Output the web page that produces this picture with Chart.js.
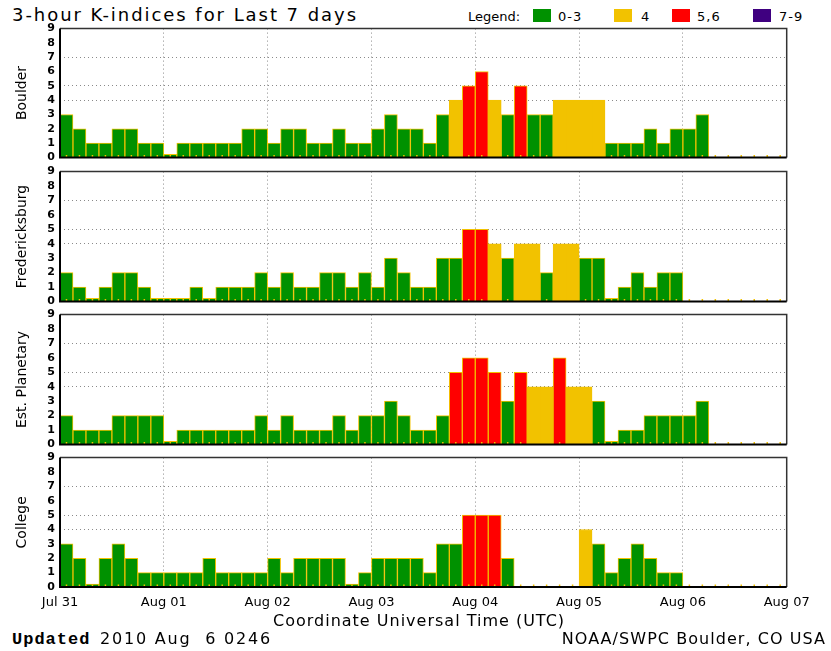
<!DOCTYPE html>
<html><head><meta charset="utf-8">
<script src="https://cdn.jsdelivr.net/npm/chart.js@4.4.0/dist/chart.umd.min.js"></script>
<style>
body{margin:0;background:#fff;width:831px;height:651px;position:relative;overflow:hidden;font-family:"DejaVu Sans",sans-serif;color:#000}
.t{position:absolute;white-space:pre;line-height:1}
canvas{position:absolute;left:0}
.box{position:absolute;width:18px;height:13px;top:9px}
</style></head><body>
<div class="t" style="left:12px;top:6px;font-size:18px;letter-spacing:1.95px">3-hour K-indices for Last 7 days</div>
<div class="t" style="left:468px;top:10px;font-size:13px">Legend:</div>
<div class="box" style="left:533px;background:#009100"></div>
<div class="t" style="left:558px;top:10px;font-size:13px;letter-spacing:1px">0-3</div>
<div class="box" style="left:614px;background:#f2c200"></div>
<div class="t" style="left:641px;top:10px;font-size:13px">4</div>
<div class="box" style="left:672px;background:#ff0000"></div>
<div class="t" style="left:697px;top:10px;font-size:13px;letter-spacing:1px">5,6</div>
<div class="box" style="left:753px;background:#3f0080"></div>
<div class="t" style="left:779px;top:10px;font-size:13px;letter-spacing:1px">7-9</div>

<canvas id="c1" width="831" height="152" style="top:17px"></canvas>
<canvas id="c2" width="831" height="153" style="top:160px"></canvas>
<canvas id="c3" width="831" height="153" style="top:303px"></canvas>
<canvas id="c4" width="831" height="171" style="top:446px"></canvas>

<div class="t" style="left:273px;top:613px;font-size:16px;letter-spacing:1px">Coordinate Universal Time (UTC)</div>
<div class="t" style="left:12px;top:631px;font-size:17px;font-weight:bold;font-family:'Liberation Mono',monospace;letter-spacing:1px">Updated</div>
<div class="t" style="left:100px;top:631px;font-size:16px;letter-spacing:1.8px">2010 Aug  6 0246</div>
<div class="t" style="right:5px;top:631px;font-size:16px;letter-spacing:1.05px">NOAA/SWPC Boulder, CO USA</div>
<script>
// ---- data (3-hour K-indices, 8 per day, 7 days) ----
const dayLabels = ['Jul 31','Aug 01','Aug 02','Aug 03','Aug 04','Aug 05','Aug 06','Aug 07'];
const stationNames = ['Boulder','Fredericksburg','Est. Planetary','College'];
const boulder = [3,2,1,1,2,2,1,1, 0,1,1,1,1,1,2,2, 1,2,2,1,1,2,1,1, 2,3,2,2,1,3,4,5,
                 6,4,3,5,3,3,4,4, 4,4,1,1,1,2,1,2, 2,3,null,null,null,null,null,null];
const fredericksburg = [2,1,0,1,2,2,1,0, 0,0,1,0,1,1,1,2, 1,2,1,1,2,2,1,2, 1,3,2,1,1,3,3,5,
                 5,4,3,4,4,2,4,4, 3,3,0,1,2,1,2,2, null,null,null,null,null,null,null,null];
const planetary = [2,1,1,1,2,2,2,2, 0,1,1,1,1,1,1,2, 1,2,1,1,1,2,1,2, 2,3,2,1,1,2,5,6,
                 6,5,3,5,4,4,6,4, 4,3,0,1,1,2,2,2, 2,3,null,null,null,null,null,null];
const college = [3,2,0,2,3,2,1,1, 1,1,1,2,1,1,1,1, 2,1,2,2,2,2,0,1, 2,2,2,2,1,3,3,5,
                 5,5,2,null,null,null,null,null, 4,3,1,2,3,2,1,1, null,null,null,null,null,null,null,null];
const yTicks = [0,1,2,3,4,5,6,7,8,9];
const gridLevels = [4,5,7];

const GREEN='#009100', GOLD='#f2c200', RED='#ff0000', PURPLE='#3f0080';
function colorFor(v){ if(v==null) return 'transparent'; if(v<=3) return GREEN; if(v===4) return GOLD; if(v<=6) return RED; return PURPLE; }

const framePlugin = {id:'frame', afterDraw(c){
  const {ctx, chartArea:a} = c;
  ctx.save();
  ctx.strokeStyle='#333'; ctx.lineWidth=1.5;
  ctx.beginPath(); ctx.moveTo(a.left,a.top); ctx.lineTo(a.right,a.top); ctx.lineTo(a.right,a.bottom); ctx.stroke();
  ctx.strokeStyle='#000'; ctx.lineWidth=2;
  ctx.beginPath(); ctx.moveTo(a.left,a.top); ctx.lineTo(a.left,a.bottom); ctx.lineTo(a.right,a.bottom); ctx.stroke();
  ctx.restore();
}};

function makePanel(id, title, values, showX){
  const n = values.length;
  const bars = values.map((v,i)=>({x:i+0.5, y:v}));
  const marks = values.map((v,i)=>({x:i+0.5, y:0}));
  new Chart(document.getElementById(id), {
    type:'bar',
    data:{datasets:[
      {type:'scatter', data:marks, pointStyle:'line', rotation:90, radius:2.5, borderColor:GOLD, borderWidth:1.5, backgroundColor:GOLD, order:0},
      {type:'bar', data:bars, backgroundColor:values.map(colorFor), borderColor:GOLD, borderWidth:1,
       barPercentage:1, categoryPercentage:1, minBarLength:3, order:1}
    ]},
    options:{
      responsive:false, animation:false, devicePixelRatio:1,
      layout:{padding:{left:10, right:44.3, top:8, bottom: showX?4:8}},
      plugins:{legend:{display:false}, tooltip:{enabled:false}},
      scales:{
        x:{type:'linear', min:0, max:n, offset:false,
           afterFit: s => { s.height = showX ? 26 : 0; },
           ticks:{display:showX, stepSize:8, autoSkip:false, maxRotation:0, padding:8,
                  color:'#000', font:{family:'DejaVu Sans', size:13},
                  callback: v => dayLabels[v/8]},
           grid:{drawTicks:false, offset:false, lineWidth:1,
                 color: ctx => (ctx.tick && ctx.tick.value>0 && ctx.tick.value<n) ? '#8a8a8a' : 'rgba(0,0,0,0)'},
           border:{display:false, dash:[1,3]}},
        y:{type:'linear', min:0, max:9,
           afterBuildTicks: s => { s.ticks = yTicks.map(v=>({value:v})); },
           afterFit: s => { s.width = 50; },
           ticks:{stepSize:1, autoSkip:false, padding:5, color:'#000',
                  font:{family:'DejaVu Sans', size:11, weight:'bold'}},
           title:{display:true, text:title, color:'#000', font:{family:'DejaVu Sans', size:14}, padding:{top:4,bottom:0}},
           grid:{drawTicks:false, lineWidth:1,
                 color: ctx => (ctx.tick && gridLevels.includes(ctx.tick.value)) ? '#8a8a8a' : 'rgba(0,0,0,0)'},
           border:{display:false, dash:[1,3]}}
      }
    },
    plugins:[framePlugin]
  });
}
makePanel('c1', stationNames[0], boulder, false);
makePanel('c2', stationNames[1], fredericksburg, false);
makePanel('c3', stationNames[2], planetary, false);
makePanel('c4', stationNames[3], college, true);
</script>
</body></html>
